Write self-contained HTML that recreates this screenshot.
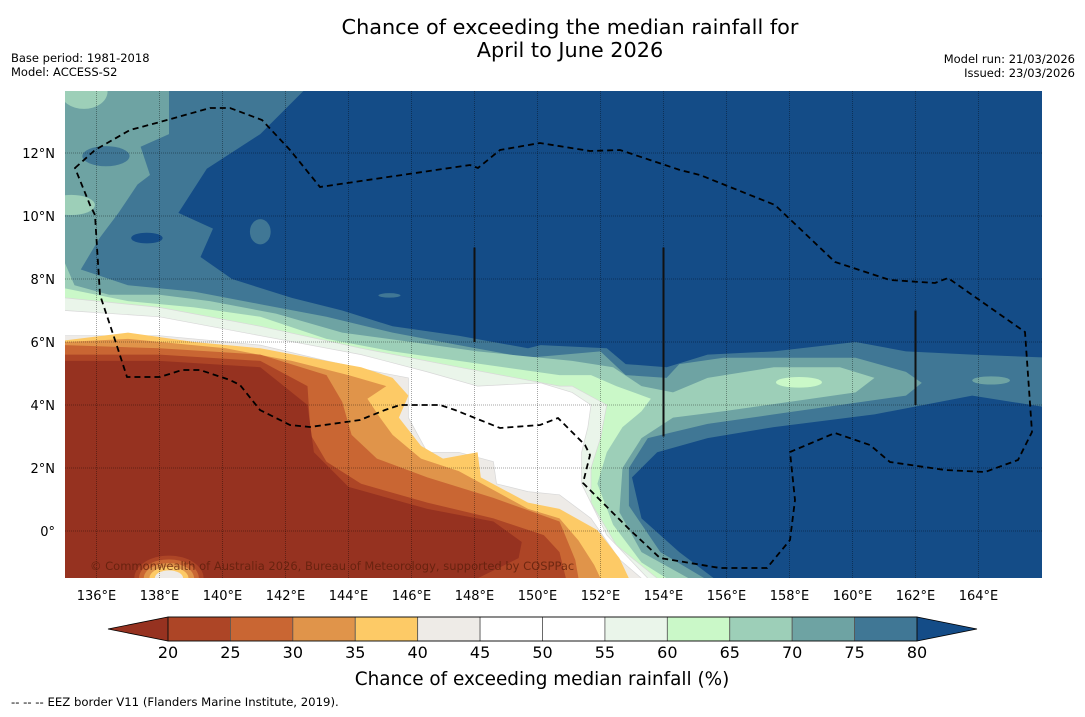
<!DOCTYPE html>
<html><head><meta charset="utf-8">
<style>
html,body{margin:0;padding:0;background:#fff;}
body{width:1085px;height:713px;overflow:hidden;font-family:"DejaVu Sans","Liberation Sans",sans-serif;}
svg text{font-family:"DejaVu Sans","Liberation Sans",sans-serif;}
</style></head>
<body>
<svg id="chart" width="1085" height="713" xmlns="http://www.w3.org/2000/svg">
<text x="570" y="34" font-size="20.8" text-anchor="middle">Chance of exceeding the median rainfall for</text>
<text x="570" y="57" font-size="20.8" text-anchor="middle">April to June 2026</text>
<text x="11" y="62" font-size="11.5">Base period: 1981-2018</text>
<text x="11" y="76" font-size="11.5">Model: ACCESS-S2</text>
<text x="1075" y="63" font-size="11.5" text-anchor="end">Model run: 21/03/2026</text>
<text x="1075" y="77" font-size="11.5" text-anchor="end">Issued: 23/03/2026</text>
<defs><clipPath id="mapclip"><rect x="65" y="91" width="977" height="487"/></clipPath></defs>
<g id="map" clip-path="url(#mapclip)"></g>
<g id="axes"></g>
<g id="cbar"></g>
<text x="542" y="685" font-size="18.4" text-anchor="middle">Chance of exceeding median rainfall (%)</text>
<text x="11" y="706" font-size="11.7">--  --  -- EEZ border V11 (Flanders Marine Institute, 2019).</text>
</svg>
<script>
const NS="http://www.w3.org/2000/svg";
const levels=[20,25,30,35,40,45,50,55,60,65,70,75,80];
const binColors=["#ad4526","#c96633","#e0944a","#fdca66","#eeebe7","#ffffff","#ffffff","#eaf5ea","#caf8c8","#9dcfb8","#6ea3a3","#407795"];
const underColor="#963220";
const overColor="#144c87";
const lonTicks=[136,138,140,142,144,146,148,150,152,154,156,158,160,162,164];
const latTicks=[0,2,4,6,8,10,12];
// contour polygons (lon,lat) enclosing values below each level
const c80=[[134,14.2],[142.6,14.2],[142.6,14],[141.2,12.6],[139.5,11.5],[138.6,10.1],[139.7,9.6],[139.3,8.7],[140.3,8.0],[142.2,7.4],[143.8,7.0],[145.4,6.5],[147.5,6.2],[149.7,5.8],[150.1,5.9],[152.2,5.8],[152.8,5.3],[154.1,5.2],[155.4,5.6],[157.5,5.7],[160.1,6.0],[161.7,5.7],[163.8,5.6],[166.3,5.5],[166.3,3.9],[163.8,4.3],[160.7,3.7],[157.5,3.3],[155.4,2.95],[153.8,2.5],[153.0,1.7],[153.3,0.4],[154.5,-0.67],[155.6,-1.5],[155.7,-2],[134,-2]];
const c75=[[134,14.2],[138.3,14.2],[138.3,12.6],[137.4,12.2],[137.7,11.3],[137.3,11.0],[136.7,10.1],[136.1,9.3],[135.5,8.3],[137.0,7.8],[139.1,7.6],[141.2,7.2],[143.3,6.8],[145.4,6.3],[147.5,5.9],[149.7,5.5],[152.0,5.7],[152.8,4.95],[154.1,4.86],[154.5,5.3],[155.9,5.5],[158.0,5.5],[160.1,5.5],[161.7,5.05],[162.2,4.7],[161.7,4.3],[159.6,4.0],[157.5,3.7],[155.4,3.4],[153.5,2.95],[152.9,2.0],[152.9,0.8],[153.9,-0.67],[155.3,-1.5],[155.4,-2],[134,-2]];
const c70=[[134,8.5],[135,8.5],[135.3,7.8],[136.4,7.5],[138.0,7.5],[139.6,7.3],[141.7,6.9],[143.8,6.3],[146.0,6.0],[148.1,5.7],[151.1,5.4],[152.4,5.2],[153.3,4.6],[154.3,4.4],[155.4,4.86],[157.5,5.2],[159.6,5.2],[160.7,4.86],[160.1,4.4],[158.0,4.1],[155.9,3.8],[154.3,3.6],[153.3,2.95],[152.7,2.0],[152.6,0.6],[153.3,-0.67],[154.8,-1.5],[154.9,-2],[134,-2]];
const c65=[[134,7.7],[135,7.7],[137.0,7.3],[139.1,7.1],[141.2,6.8],[143.3,6.1],[145.4,5.7],[147.5,5.4],[150.7,4.95],[151.7,4.95],[152.5,4.6],[153.6,4.2],[153.3,3.8],[152.7,3.3],[152.2,2.5],[151.9,1.5],[152.4,0.2],[153.3,-1.0],[154.1,-1.5],[154.2,-2],[134,-2]];
const c60=[[134,7.4],[135,7.4],[138.0,7.1],[141.2,6.5],[144.4,5.8],[147.5,5.2],[150.7,4.6],[151.1,4.6],[152.2,4.0],[152.0,2.95],[151.7,2.0],[151.7,0.9],[152.5,-0.45],[153.8,-1.5],[153.9,-2],[134,-2]];
const c55=[[134,7.0],[135,7.0],[138.0,6.8],[141.2,6.2],[144.4,5.6],[146.5,5.05],[148.1,4.6],[150.1,4.7],[151.1,4.4],[151.7,4.0],[151.6,3.3],[151.4,2.5],[151.4,1.5],[152.2,-0.13],[153.5,-1.5],[153.6,-2],[134,-2]];
const c45=[[134,6.2],[135,6.2],[138.0,6.2],[141.2,5.9],[143.3,5.4],[144.9,5.05],[145.9,4.86],[145.9,3.6],[146.5,2.5],[147.5,2.5],[148.6,2.2],[148.7,1.5],[149.7,1.25],[150.7,1.15],[151.7,0.4],[152.6,-0.9],[153.3,-1.5],[153.4,-2],[134,-2]];
const c40=[[134,6.05],[135,6.05],[137.0,6.3],[139.1,6.0],[141.2,5.8],[143.3,5.4],[144.4,5.2],[145.4,4.86],[145.9,4.3],[145.6,3.6],[146.3,2.7],[147.0,2.3],[148.1,2.5],[148.2,1.7],[149.7,0.9],[150.7,0.7],[151.9,0.03],[152.6,-0.86],[152.9,-1.5],[153.0,-2],[134,-2]];
const c35=[[134,6.0],[135,6.0],[137.0,6.1],[140.1,5.8],[142.2,5.4],[144.0,4.95],[145.2,4.6],[144.6,4.2],[145.0,3.6],[145.4,3.05],[146.3,2.3],[147.5,1.9],[149.7,0.7],[150.7,0.4],[151.3,-0.3],[151.8,-1.08],[152.0,-1.5],[152.1,-2],[134,-2]];
const c30=[[134,5.9],[135,5.9],[138.0,5.8],[141.2,5.6],[143.3,4.95],[143.8,4.1],[144.1,3.05],[144.9,2.3],[146.5,1.7],[148.6,1.05],[150.7,0.3],[151.2,-0.92],[151.3,-1.5],[151.4,-2],[134,-2]];
const c25=[[134,5.6],[135,5.6],[138.0,5.6],[141.2,5.4],[142.7,4.6],[142.8,3.05],[143.3,2.2],[144.4,1.5],[146.5,0.9],[148.6,0.4],[150.2,-0.13],[150.7,-0.67],[150.9,-1.5],[151.0,-2],[134,-2]];
const c20=[[134,5.4],[135,5.4],[138.0,5.4],[141.2,5.2],[142.7,4.0],[142.9,2.5],[144.0,1.4],[146.5,0.7],[148.6,0.3],[149.5,-0.35],[149.4,-0.86],[148.1,-1.5],[148.0,-2],[134,-2]];
// isolated blobs: [lon, lat, rlon, rlat, value]
const blobs=[[136.3,11.9,0.75,0.32,77],[137.6,9.3,0.5,0.17,85],[141.2,9.5,0.33,0.4,77],[145.3,7.48,0.35,0.07,77],[158.3,4.72,0.73,0.17,62],[164.4,4.78,0.6,0.13,72],[135.2,10.35,0.75,0.32,67],[135.6,13.95,0.75,0.55,67],
 [138.3,-1.5,1.1,0.72,22],[138.3,-1.5,0.95,0.6,27],[138.3,-1.5,0.8,0.48,32],[138.3,-1.5,0.62,0.36,37],[138.3,-1.5,0.45,0.25,42]];

const lon0=135, lat0=0, pxPerDeg=31.5, xOrigin=65, yOrigin=531;
const X=lon=>xOrigin+(lon-lon0)*pxPerDeg;
const Y=lat=>yOrigin-(lat-lat0)*pxPerDeg;
function colorFor(v){ if(v<levels[0])return underColor; if(v>=levels[levels.length-1])return overColor;
  for(let i=0;i<levels.length-1;i++){ if(v>=levels[i]&&v<levels[i+1])return binColors[i]; } }
function mk(tag,attrs,parent){const e=document.createElementNS(NS,tag);for(const k in attrs)e.setAttribute(k,attrs[k]);parent.appendChild(e);return e;}
const map=document.getElementById('map');
const bg=mk('rect',{x:65,y:91,width:977,height:487,fill:overColor},map);


const contourSets=[[80,c80],[75,c75],[70,c70],[65,c65],[60,c60],[55,c55],[45,c45],[40,c40],[35,c35],[30,c30],[25,c25],[20,c20]];
contourSets.forEach(([lv,pts])=>{
  const d='M'+pts.map(p=>X(p[0]).toFixed(1)+','+Y(p[1]).toFixed(1)).join('L')+'Z';
  const p=mk('path',{d:d,fill:colorFor(lv-0.1),stroke:(lv>=45&&lv<=60)?'#d8d8d8':'none','stroke-width':0.7},map);
  
  
});
blobs.forEach((b,i)=>{
  const e=mk('ellipse',{cx:X(b[0]),cy:Y(b[1]),rx:b[2]*pxPerDeg,ry:b[3]*pxPerDeg,fill:colorFor(b[4])},map);
  
  
});
// gridlines
lonTicks.forEach(l=>{const g=mk('line',{x1:X(l),x2:X(l),y1:91,y2:578,stroke:'rgba(0,0,0,0.35)','stroke-width':1,'stroke-dasharray':'1,1'},map);
  
  });
latTicks.forEach(l=>{const g=mk('line',{x1:65,x2:1042,y1:Y(l),y2:Y(l),stroke:'rgba(0,0,0,0.35)','stroke-width':1,'stroke-dasharray':'1,1'},map);
  
  });
// EEZ border
const eez=mk('path',{d:'M75,168 L95,150 L130,130 L160,122 L210,108 L230,108 L262,120 L290,150 L320,187 L470,165 L478,168 L500,150 L540,143 L590,151 L620,150 L680,170 L700,175 L775,205 L835,262 L890,280 L935,283 L948,278 L1025,332 L1032,432 L1018,460 L985,472 L945,470 L890,462 L870,445 L835,433 L790,452 L795,500 L790,540 L767,568 L720,568 L660,558 L630,530 L600,500 L583,483 L590,455 L585,445 L558,418 L540,425 L500,428 L455,410 L440,405 L400,405 L385,410 L360,420 L310,427 L290,425 L260,410 L240,385 L230,380 L200,370 L182,370 L160,377 L127,377 L115,340 L100,295 L95,215 L90,205 Z',fill:'none',stroke:'#000','stroke-width':1.8,'stroke-dasharray':'6,4'},map);


[[148,9.0,6.0],[154,9.0,3.0],[162,7.0,4.0]].forEach(v=>{const l=mk('line',{x1:X(v[0]),x2:X(v[0]),y1:Y(v[1]),y2:Y(v[2]),stroke:'#111','stroke-width':2},map);
  
  });
const cr=mk('text',{x:90,y:570,'font-size':11.5,fill:'rgba(90,30,10,0.75)'},map);
cr.textContent='© Commonwealth of Australia 2026, Bureau of Meteorology, supported by COSPPac';


// axes labels
const axes=document.getElementById('axes');
lonTicks.forEach(l=>{const t=mk('text',{x:X(l),y:600,'font-size':13,'text-anchor':'middle'},axes);t.textContent=l+'°E';
  
  });
latTicks.forEach(l=>{const t=mk('text',{x:55,y:Y(l)+5,'font-size':13,'text-anchor':'end'},axes);t.textContent=l===0?'0°':l+'°N';
  
  });
// colorbar
const cb=document.getElementById('cbar');
const cbX0=168, cbX1=917, cbY=617, cbH=24, bw=(cbX1-cbX0)/(levels.length-1);
const lt=mk('polygon',{points:`108,${cbY+cbH/2} ${cbX0},${cbY} ${cbX0},${cbY+cbH}`,fill:underColor,stroke:'#000','stroke-width':0.8},cb);


const rt=mk('polygon',{points:`977,${cbY+cbH/2} ${cbX1},${cbY} ${cbX1},${cbY+cbH}`,fill:overColor,stroke:'#000','stroke-width':0.8},cb);


binColors.forEach((c,i)=>{const r=mk('rect',{x:cbX0+i*bw,y:cbY,width:bw,height:cbH,fill:c,stroke:'#555','stroke-width':0.8},cb);
  
  });
mk('rect',{x:cbX0,y:cbY,width:cbX1-cbX0,height:cbH,fill:'none',stroke:'#000','stroke-width':0.8},cb);
levels.forEach((v,i)=>{const t=mk('text',{x:cbX0+i*bw,y:658,'font-size':16,'text-anchor':'middle'},cb);t.textContent=v;
  
  });
</script>
</body></html>
